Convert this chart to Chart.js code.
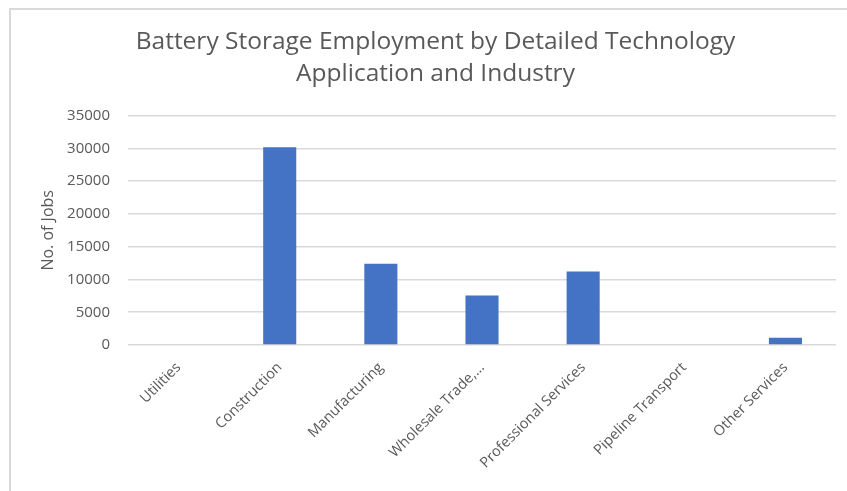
<!DOCTYPE html>
<html>
<head>
<meta charset="utf-8">
<script src="https://cdn.jsdelivr.net/npm/chart.js@4"></script>
<style>
  html, body { margin: 0; padding: 0; background: #fff; }
  #wrap { position: relative; width: 847px; height: 491px; overflow: hidden; }
  #frame { position: absolute; left: 9px; top: 8px; width: 860px; height: 500px;
           border-left: 2px solid #d9d9d9; border-top: 2px solid #d9d9d9; }
  canvas { position: absolute; left: 0; top: 0; }
</style>
</head>
<body>
<div id="wrap">
  <div id="frame"></div>
  <canvas id="chart" width="847" height="491"></canvas>
</div>
<script>
// ===== DATA =====
const categories = ['Utilities', 'Construction', 'Manufacturing', 'Wholesale Trade,…',
                    'Professional Services', 'Pipeline Transport', 'Other Services'];
const jobs = [0, 30200, 12400, 7550, 11200, 0, 1100];
const yTicks = [0, 5000, 10000, 15000, 20000, 25000, 30000, 35000];

const titleLines = ['Battery Storage Employment by Detailed Technology', 'Application and Industry'];
const yTitle = 'No. of Jobs';

const TEXT = '#595959';
const GRID = '#d9d9d9';
const FONT = 'Open Sans';

// ===== CHART =====
const chartEl = document.getElementById('chart');
new Chart(chartEl, {
  type: 'bar',
  data: {
    labels: categories,
    datasets: [{
      label: 'Jobs',
      data: jobs,
      backgroundColor: '#4472C4',
      borderWidth: 0,
      barPercentage: 1,
      categoryPercentage: 0.327
    }]
  },
  options: {
    responsive: false,
    animation: false,
    layout: { padding: { left: 35, right: 11, top: 0, bottom: 0 } },
    plugins: {
      legend: { display: false },
      tooltip: { enabled: false },
      title: {
        display: true,
        text: titleLines,
        color: TEXT,
        font: { family: FONT, size: 24.5, weight: 'normal', lineHeight: 1.3 },
        padding: { top: 26, bottom: 26 }
      }
    },
    scales: {
      x: {
        grid: { display: false },
        border: { display: false },
        ticks: {
          color: TEXT, font: { family: FONT, size: 14.5 },
          maxRotation: 45, minRotation: 45, padding: 6, autoSkip: false
        },
        afterFit: function (scale) { scale.height = 491 - 345; }
      },
      y: {
        min: 0, max: 35000,
        afterBuildTicks: function (scale) { scale.ticks = yTicks.map(v => ({ value: v })); },
        grid: { color: GRID, lineWidth: 1.5, drawTicks: false },
        border: { display: false },
        ticks: {
          color: TEXT, font: { family: FONT, size: 15 }, padding: 18,
          callback: function (v) { return String(v); }
        },
        title: {
          display: true, text: yTitle, color: TEXT,
          font: { family: FONT, size: 16 }, padding: { top: 4, bottom: 0 }
        },
        afterFit: function (scale) { scale.width = 128 - 35; }
      }
    }
  }
});
</script>
</body>
</html>
